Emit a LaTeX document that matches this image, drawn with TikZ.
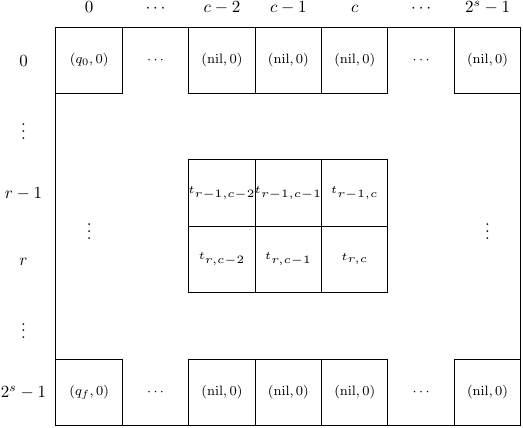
\documentclass[tikz,border=0pt]{standalone}
\begin{document}
\begin{tikzpicture}[x=1.373cm,y=1.373cm,
  box/.style={draw, line width=0.6pt, minimum width=1.373cm, minimum height=1.373cm, inner sep=0pt, font=\footnotesize},
  frame/.style={draw, line width=0.6pt, minimum width=7*1.373cm, minimum height=6*1.373cm, inner sep=0pt},
  tlab/.style={font=\tiny, scale=1.32, inner sep=0pt},
  head/.style={anchor=base, inner sep=0pt},
  dotlab/.style={inner sep=0pt}]
\useasboundingbox (0,0) rectangle (7.877,-6.446);
% frame
\node[frame] (frame) at (4.343,-3.407) {};
% column headers
\node[head] (h0) at (1.343,-0.19) {$0$};
\node[head] (h1) at (2.343,-0.19) {$\cdots$};
\node[head] (h2) at (3.343,-0.19) {$c-2$};
\node[head] (h3) at (4.343,-0.19) {$c-1$};
\node[head] (h4) at (5.343,-0.19) {$c$};
\node[head] (h5) at (6.343,-0.19) {$\cdots$};
\node[head] (h6) at (7.343,-0.19) {$2^s-1$};
% row headers
\node[head] (r0) at (0.354,-0.994) {$0$};
\node[dotlab] (r1) at (0.354,-1.907) {$\vdots$};
\node[head] (r2) at (0.354,-2.994) {$r-1$};
\node[head] (r3) at (0.354,-3.994) {$r$};
\node[dotlab] (r4) at (0.354,-4.907) {$\vdots$};
\node[head] (r5) at (0.354,-5.994) {$2^s-1$};
% top row
\node[box] (a0) at (1.343,-0.907) {$(q_0,0)$};
\node[dotlab, font=\footnotesize] (a1) at (2.343,-0.907) {$\cdots$};
\node[box] (a2) at (3.343,-0.907) {$(\mathrm{nil},0)$};
\node[box] (a3) at (4.343,-0.907) {$(\mathrm{nil},0)$};
\node[box] (a4) at (5.343,-0.907) {$(\mathrm{nil},0)$};
\node[dotlab, font=\footnotesize] (a5) at (6.343,-0.907) {$\cdots$};
\node[box] (a6) at (7.343,-0.907) {$(\mathrm{nil},0)$};
% bottom row
\node[box] (b0) at (1.343,-5.907) {$(q_f,0)$};
\node[dotlab, font=\footnotesize] (b1) at (2.343,-5.907) {$\cdots$};
\node[box] (b2) at (3.343,-5.907) {$(\mathrm{nil},0)$};
\node[box] (b3) at (4.343,-5.907) {$(\mathrm{nil},0)$};
\node[box] (b4) at (5.343,-5.907) {$(\mathrm{nil},0)$};
\node[dotlab, font=\footnotesize] (b5) at (6.343,-5.907) {$\cdots$};
\node[box] (b6) at (7.343,-5.907) {$(\mathrm{nil},0)$};
% middle block
\node[box] (m1) at (3.343,-2.907) {};
\node[box] (m2) at (4.343,-2.907) {};
\node[box] (m3) at (5.343,-2.907) {};
\node[box] (n1) at (3.343,-3.907) {};
\node[box] (n2) at (4.343,-3.907) {};
\node[box] (n3) at (5.343,-3.907) {};
\node[tlab] (tm1) at (m1) {$t_{r-1,c-2}$};
\node[tlab] (tm2) at (m2) {$t_{r-1,c-1}$};
\node[tlab] (tm3) at (m3) {$t_{r-1,c}$};
\node[tlab] (tn1) at (n1) {$t_{r,c-2}$};
\node[tlab] (tn2) at (n2) {$t_{r,c-1}$};
\node[tlab] (tn3) at (n3) {$t_{r,c}$};
% inner vertical dots
\node[dotlab] (vl) at (1.343,-3.407) {$\vdots$};
\node[dotlab] (vr) at (7.343,-3.407) {$\vdots$};
\end{tikzpicture}
\end{document}
